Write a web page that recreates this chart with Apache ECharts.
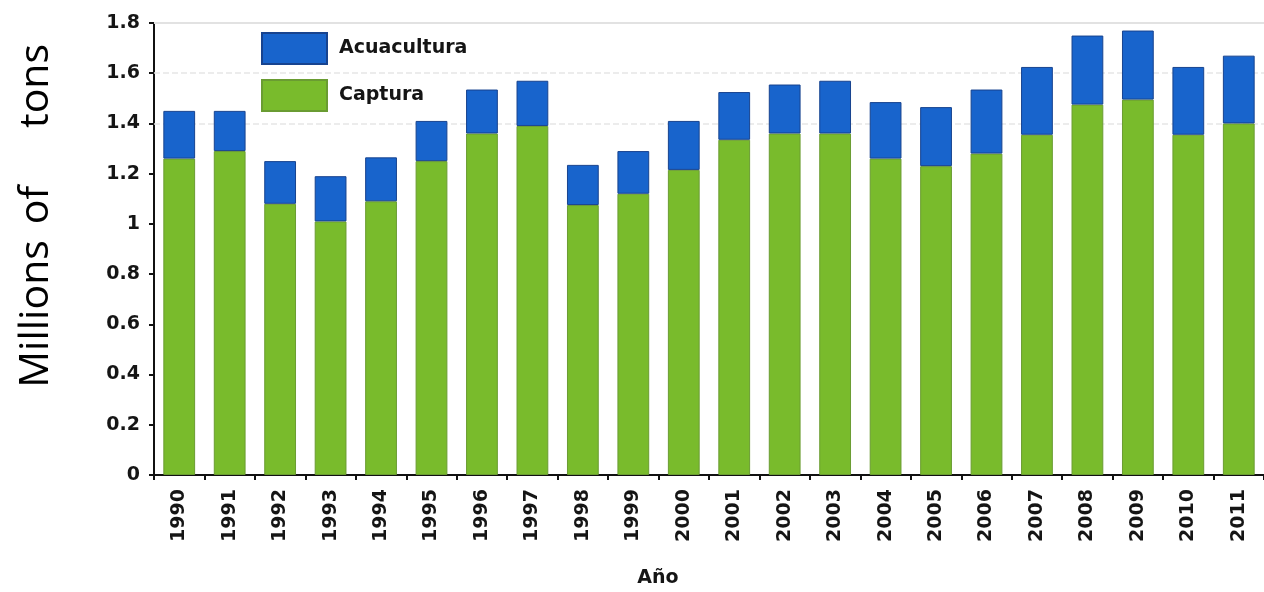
<!DOCTYPE html>
<html>
<head>
<meta charset="utf-8">
<title>Producción pesquera</title>
<script src="https://cdn.jsdelivr.net/npm/echarts@6/dist/echarts.min.js"></script>
<style>
  html, body { margin: 0; padding: 0; background: #ffffff; }
  #chart { width: 1264px; height: 592px; }
</style>
</head>
<body>
<div id="chart"></div>
<script>
// Years on the category axis
const years = ['1990','1991','1992','1993','1994','1995','1996','1997','1998','1999','2000',
               '2001','2002','2003','2004','2005','2006','2007','2008','2009','2010','2011'];

// Capture fisheries (millions of tons)
const captura = [1.26,1.29,1.08,1.01,1.09,1.25,1.36,1.39,1.075,1.12,1.215,
                 1.335,1.36,1.36,1.26,1.23,1.28,1.355,1.475,1.495,1.355,1.40];

// Aquaculture, stacked on top of capture (millions of tons)
const acuacultura = [0.19,0.16,0.17,0.18,0.175,0.16,0.175,0.18,0.16,0.17,0.195,
                     0.19,0.195,0.21,0.225,0.235,0.255,0.27,0.275,0.275,0.27,0.27];

// Value-axis ticks
const yTicks = { min: 0, max: 1.8, interval: 0.2 };
// Faint reference lines near the top of the plot
const refLines = [1.8, 1.6, 1.4];

// Words of the vertical axis title, with their centre along the page height
const yTitleWords = [
  { text: 'Millions', y: 314 },
  { text: 'of', y: 205 },
  { text: 'tons', y: 86 }
];

const chart = echarts.init(document.getElementById('chart'), null, { renderer: 'canvas' });

const boldFont = { fontFamily: 'DejaVu Sans', fontWeight: 'bold', fontSize: 19, color: '#151515' };

chart.setOption({
  animation: false,
  backgroundColor: '#ffffff',
  grid: { left: 154, top: 23, width: 1115, height: 452, containLabel: false },
  legend: {
    orient: 'vertical',
    left: 256,
    top: 27,
    itemWidth: 65,
    itemHeight: 31,
    itemGap: 14,
    icon: 'rect',
    data: ['Acuacultura', 'Captura'],
    textStyle: Object.assign({}, boldFont, { padding: [0, 0, 0, 7] })
  },
  xAxis: {
    type: 'category',
    data: years,
    boundaryGap: true,
    axisLine: { lineStyle: { color: '#111', width: 2 } },
    axisTick: { show: true, length: 5, lineStyle: { color: '#111', width: 2 } },
    axisLabel: Object.assign({ rotate: 90, margin: 14, interval: 0 }, boldFont),
    splitLine: { show: false }
  },
  yAxis: {
    type: 'value',
    min: yTicks.min,
    max: yTicks.max,
    interval: yTicks.interval,
    axisLine: { show: true, lineStyle: { color: '#111', width: 2 } },
    axisTick: { show: true, length: 5, lineStyle: { color: '#111', width: 2 } },
    axisLabel: Object.assign({ margin: 14 }, boldFont),
    splitLine: { show: false }
  },
  graphic: yTitleWords.map(w => ({
    type: 'text',
    x: 36,
    y: w.y,
    rotation: Math.PI / 2,
    style: {
      text: w.text,
      fontFamily: 'Open Sans',
      fontSize: 41,
      fill: '#000',
      textAlign: 'center',
      textVerticalAlign: 'middle'
    }
  })).concat([
    {
      type: 'text',
      x: 658,
      y: 578,
      style: {
        text: 'Año',
        fontFamily: 'DejaVu Sans',
        fontWeight: 'bold',
        fontSize: 19,
        fill: '#151515',
        textAlign: 'center',
        textVerticalAlign: 'middle'
      }
    }
  ]),
  series: [
    {
      name: 'Captura',
      type: 'bar',
      stack: 'total',
      barWidth: '63%',
      data: captura,
      itemStyle: { color: '#79bb2c', borderColor: '#6a9c32', borderWidth: 1 },
      markLine: {
        silent: true,
        z: 1,
        symbol: 'none',
        label: { show: false },
        lineStyle: { color: '#e6e6e6', width: 1.5, type: 'dashed' },
        data: refLines.map((v, i) => ({
          yAxis: v,
          lineStyle: i === 0 ? { type: 'solid', color: '#e2e2e2', width: 2 } : {}
        }))
      }
    },
    {
      name: 'Acuacultura',
      type: 'bar',
      stack: 'total',
      barWidth: '63%',
      data: acuacultura,
      itemStyle: { color: '#1864cc', borderColor: '#17438f', borderWidth: 1 }
    }
  ]
});
</script>
</body>
</html>
